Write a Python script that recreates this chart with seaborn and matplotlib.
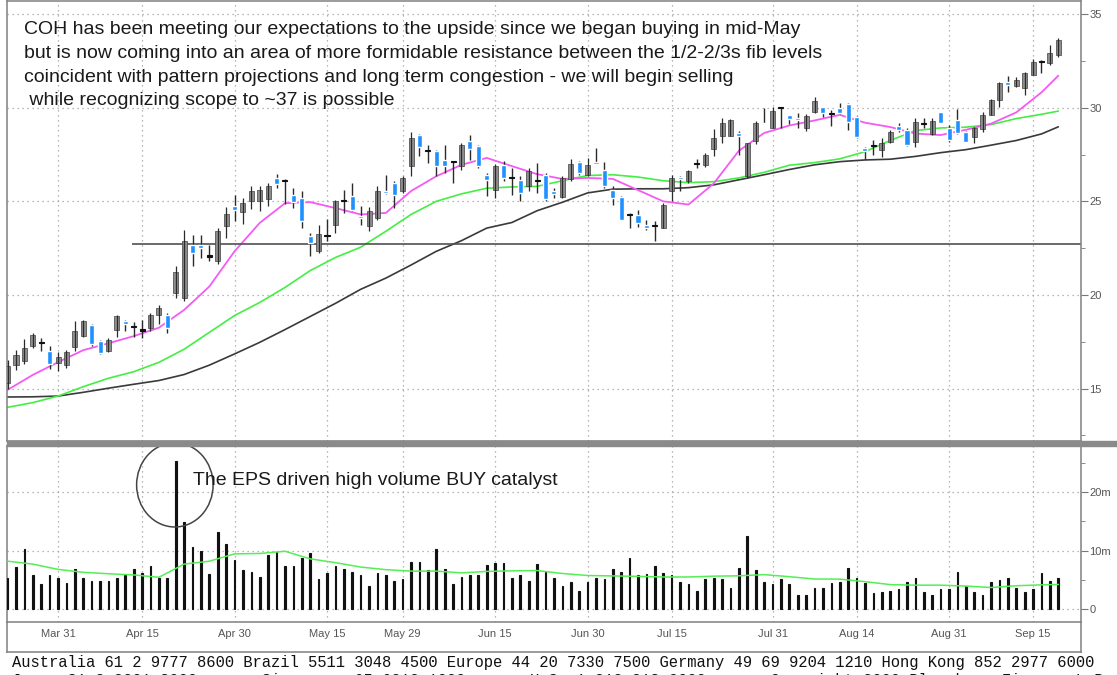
import numpy as np
import pandas as pd
import matplotlib
matplotlib.use("Agg")
import matplotlib.pyplot as plt
from matplotlib.patches import Ellipse, Rectangle
import seaborn as sns


# Trading sessions shown (2009, US market holidays skipped)

holidays = ["2009-04-10", "2009-05-25", "2009-07-03", "2009-09-07"]
dates = pd.bdate_range("2009-03-23", "2009-09-18", freq="C", holidays=holidays)

# Daily OHLC

opens = [
    15.3, 16.27, 16.45, 17.25, 17.42, 17.03, 16.36, 16.27, 17.2, 17.8,
    18.4, 17.55, 17.0, 18.14, 18.62, 18.3, 18.1, 18.23, 18.94, 18.94,
    20.1, 19.85, 22.68, 22.68, 22.1, 21.8, 23.7, 24.75, 24.45, 25.0,
    25.0, 25.1, 26.26, 26.1, 25.36, 25.2, 23.13, 22.33, 23.13, 23.75,
    25.0, 25.27, 24.2, 23.66, 24.1, 25.53, 25.98, 25.53, 26.87, 28.53,
    27.67, 27.71, 27.23, 27.14, 26.87, 28.24, 27.94, 26.43, 25.62, 26.96,
    26.25, 26.16, 25.8, 26.1, 26.43, 25.54, 25.22, 26.17, 27.11, 26.43,
    27.1, 26.67, 25.63, 25.22, 24.3, 24.26, 23.76, 23.75, 23.55, 25.54,
    26.3, 26.08, 27.05, 26.93, 27.77, 28.48, 28.48, 28.66, 26.35, 28.22,
    29.2, 28.93, 30.0, 29.6, 29.43, 28.93, 29.75, 30.05, 29.64, 30.0,
    30.18, 29.52, 27.86, 27.95, 27.74, 28.18, 29.04, 28.8, 28.18, 29.13,
    28.57, 29.75, 28.93, 29.34, 28.72, 28.45, 28.89, 29.61, 30.41, 31.35,
    31.18, 31.03, 31.75, 32.46, 32.37, 32.82,
]
highs = [
    16.55, 17.07, 17.64, 17.96, 17.69, 17.25, 16.98, 17.07, 18.62, 18.67,
    18.44, 17.6, 17.7, 18.94, 18.67, 18.55, 18.67, 19.06, 19.44, 19.03,
    21.52, 23.45, 23.22, 23.22, 22.68, 23.57, 24.7, 25.36, 25.18, 25.82,
    25.82, 26.0, 26.45, 26.2, 25.71, 25.53, 23.31, 23.72, 24.07, 25.09,
    25.62, 25.98, 24.73, 24.68, 25.8, 26.43, 26.07, 26.34, 28.71, 28.57,
    28.03, 27.76, 28.03, 27.14, 28.12, 28.53, 28.03, 26.52, 27.0, 27.14,
    26.78, 26.34, 26.78, 27.05, 26.52, 25.72, 26.35, 27.24, 27.18, 27.33,
    27.83, 27.11, 25.81, 25.28, 24.38, 24.56, 24.03, 23.97, 24.92, 26.43,
    26.35, 26.7, 27.24, 27.59, 28.84, 29.47, 29.38, 28.75, 28.13, 29.29,
    30.0, 30.04, 30.05, 29.6, 29.73, 29.64, 30.59, 30.05, 29.88, 30.23,
    30.27, 29.55, 27.91, 28.27, 28.36, 28.8, 29.16, 28.9, 29.43, 29.43,
    29.43, 29.79, 29.07, 29.93, 28.75, 28.98, 29.79, 30.46, 31.35, 31.71,
    31.66, 31.93, 32.6, 32.55, 33.35, 33.74,
]
lows = [
    15.0, 16.0, 16.32, 17.16, 17.01, 16.05, 15.94, 16.09, 17.01, 17.78,
    17.3, 16.84, 16.98, 17.78, 18.05, 17.78, 17.69, 18.05, 18.44, 17.96,
    19.83, 19.7, 21.52, 22.0, 21.8, 21.66, 23.04, 23.93, 23.79, 24.6,
    24.5, 24.75, 25.7, 24.85, 24.64, 23.6, 22.06, 22.24, 22.86, 23.31,
    24.38, 24.47, 23.75, 23.43, 24.02, 25.4, 24.64, 25.45, 26.34, 27.41,
    27.05, 26.34, 26.52, 25.98, 26.69, 27.23, 26.78, 25.27, 25.18, 26.07,
    25.36, 25.04, 25.53, 25.45, 25.0, 25.19, 25.19, 26.08, 26.43, 26.35,
    27.0, 25.69, 24.83, 24.03, 23.58, 23.62, 23.49, 22.87, 23.55, 25.0,
    25.54, 25.99, 26.79, 26.83, 27.42, 28.13, 28.48, 27.5, 26.26, 28.04,
    29.11, 28.93, 28.93, 29.11, 28.93, 28.75, 29.7, 29.52, 29.04, 29.64,
    28.8, 28.36, 27.24, 27.47, 27.38, 28.09, 28.72, 27.97, 27.91, 28.93,
    28.54, 29.16, 28.18, 28.57, 28.15, 28.09, 28.72, 29.61, 30.05, 30.86,
    31.12, 30.68, 31.75, 31.84, 32.28, 32.73,
]
closes = [
    16.2, 16.8, 17.15, 17.87, 17.45, 16.32, 16.71, 16.94, 18.05, 18.6,
    17.37, 16.9, 17.6, 18.85, 18.44, 18.35, 18.14, 18.94, 19.3, 18.23,
    21.2, 22.9, 22.24, 22.5, 22.05, 23.4, 24.3, 24.55, 24.9, 25.55,
    25.6, 25.8, 25.94, 26.12, 24.96, 23.93, 22.77, 23.25, 23.15, 25.04,
    25.02, 24.55, 24.1, 24.47, 25.53, 25.45, 25.36, 26.25, 28.39, 27.89,
    27.69, 26.87, 26.87, 27.08, 28.03, 27.82, 26.87, 26.16, 26.87, 26.25,
    26.27, 25.45, 26.6, 26.15, 25.1, 25.37, 26.26, 26.97, 26.52, 26.93,
    27.0, 25.81, 25.19, 24.03, 24.25, 23.85, 23.55, 23.7, 24.83, 26.26,
    26.2, 26.61, 27.0, 27.5, 28.4, 29.2, 29.32, 28.48, 28.13, 29.2,
    29.11, 29.82, 30.02, 29.38, 29.32, 29.55, 30.36, 29.7, 29.66, 29.7,
    29.25, 28.45, 27.68, 27.98, 28.09, 28.72, 28.8, 28.0, 29.25, 29.17,
    29.29, 29.21, 28.27, 28.63, 28.18, 28.93, 29.61, 30.41, 31.3, 31.21,
    31.48, 31.84, 32.46, 32.48, 32.9, 33.62,
]

# Daily volume, millions of shares

volume_m = [
    5.36, 7.24, 10.26, 5.81, 4.22, 5.81, 5.24, 4.39, 6.84, 5.24,
    4.79, 4.84, 4.79, 5.41, 5.81, 6.84, 6.10, 7.35, 5.41, 5.41,
    25.36, 14.93, 10.66, 9.91, 5.93, 13.11, 11.17, 8.32, 6.61, 6.27,
    5.53, 9.23, 9.80, 7.35, 7.35, 8.77, 9.63, 5.07, 6.10, 7.35,
    6.84, 6.27, 5.81, 3.99, 6.10, 5.81, 4.79, 5.07, 7.98, 7.98,
    6.67, 10.26, 6.78, 4.22, 5.47, 5.81, 5.81, 7.52, 7.81, 7.81,
    5.36, 5.81, 4.84, 7.69, 6.38, 5.36, 3.99, 4.56, 3.13, 4.56,
    5.24, 5.07, 6.84, 6.27, 8.66, 5.81, 5.93, 7.35, 6.10, 5.81,
    4.56, 4.22, 3.13, 5.07, 5.36, 5.07, 3.53, 6.95, 12.54, 6.67,
    4.67, 4.22, 5.07, 4.22, 2.39, 2.39, 3.65, 3.53, 4.39, 4.56,
    6.95, 5.24, 4.39, 2.68, 2.85, 3.13, 3.36, 4.56, 5.24, 2.85,
    2.39, 3.36, 3.36, 6.38, 3.99, 2.85, 2.39, 4.56, 4.96, 5.36,
    3.53, 2.96, 3.36, 6.10, 4.79, 5.24,
]

# Moving averages read every 3rd session (and the last one)

ma_pink = [
    14.93, 15.73, 16.41, 17.05, 17.42, 17.8, 18.25, 19.2, 20.45, 22.33,
    23.85, 24.9, 24.96, 24.64, 24.3, 24.38, 25.55, 26.34, 26.95, 27.32,
    26.88, 26.45, 26.2, 26.25, 26.2, 25.6, 25.0, 24.83, 25.95, 27.7,
    28.65, 29.05, 29.32, 29.62, 29.2, 28.97, 28.62, 28.54, 28.82, 29.15,
    29.75, 30.82, 31.71,
]
ma_green = [
    14.0, 14.25, 14.6, 15.1, 15.55, 15.9, 16.4, 17.1, 18.0, 18.9,
    19.6, 20.4, 21.3, 22.0, 22.55, 23.4, 24.3, 25.0, 25.4, 25.7,
    25.77, 25.8, 26.1, 26.38, 26.42, 26.3, 26.1, 26.0, 26.05, 26.25,
    26.55, 26.93, 27.07, 27.27, 27.65, 28.25, 28.78, 28.92, 28.96, 29.1,
    29.42, 29.65, 29.82,
]
ma_black = [
    14.55, 14.56, 14.6, 14.8, 15.02, 15.23, 15.43, 15.75, 16.25, 16.85,
    17.47, 18.15, 18.85, 19.55, 20.3, 20.9, 21.6, 22.33, 22.9, 23.57,
    23.87, 24.5, 24.95, 25.45, 25.65, 25.67, 25.67, 25.73, 25.88, 26.15,
    26.42, 26.7, 26.95, 27.12, 27.21, 27.25, 27.4, 27.6, 27.76, 28.0,
    28.25, 28.6, 28.98,
]
vol_ma = [
    8.2, 7.7, 6.8, 6.3, 6.05, 5.85, 5.45, 7.7, 8.2, 9.45,
    9.52, 9.9, 8.6, 7.95, 7.2, 6.75, 6.5, 6.5, 6.2, 6.45,
    6.55, 6.6, 6.1, 5.75, 5.68, 5.6, 5.5, 5.5, 5.64, 5.7,
    5.9, 5.55, 5.15, 5.13, 4.7, 4.2, 4.1, 4.1, 3.95, 3.7,
    4.0, 4.15, 4.22,
]

tick_labels = ["Mar 31", "Apr 15", "Apr 30", "May 15", "May 29", "Jun 15",
               "Jun 30", "Jul 15", "Jul 31", "Aug 14", "Aug 31", "Sep 15"]

support_level = 22.7
support_start = "Apr 14"

note = [
    "COH has been meeting our expectations to the upside since we began buying in mid-May",
    "but is now coming into an area of more formidable resistance between the 1/2-2/3s fib levels",
    "coincident with pattern projections and long term congestion - we will begin selling",
    " while recognizing scope to ~37 is possible",
]
vol_note = "The EPS driven high volume BUY catalyst"
footer = [
    "Australia 61 2 9777 8600 Brazil 5511 3048 4500 Europe 44 20 7330 7500 "
    "Germany 49 69 9204 1210 Hong Kong 852 2977 6000",
    "Japan 81 3 3201 8900       Singapore 65 6212 1000       U.S. 1 212 318 2000"
    "       Copyright 2009 Bloomberg Finance L.P.",
]


# Style

sns.set_style("white")
plt.rcParams["font.family"] = ["Liberation Sans", "DejaVu Sans"]

W, H = 1117, 675
fig = plt.figure(figsize=(W / 100, H / 100), dpi=100)


def box(left, top, right, bottom):
    return [left / W, 1 - bottom / H, (right - left) / W, (bottom - top) / H]


ax_d = fig.add_axes(box(7, 622, 1081, 652))
ax_p = fig.add_axes(box(7, 1, 1081, 441))
ax_v = fig.add_axes(box(7, 446, 1081, 622))

x = np.arange(len(dates))
ma_idx = np.r_[np.arange(0, len(dates) - 2, 3), len(dates) - 1]
labels_all = list(dates.strftime("%b %d"))
major = np.array([labels_all.index(t) for t in tick_labels])
minor = np.r_[(major[:-1] + major[1:]) / 2, major[-1] + 5.5]
xlim = (-0.07, 127.7)

grid_kw = dict(color="#a0a0a0", linestyle=(0, (1, 3)), linewidth=0.9)
spine_col = "#808080"

for ax in (ax_d, ax_p, ax_v):
    for s in ax.spines.values():
        s.set_color(spine_col)
        s.set_linewidth(1.1)

ax_d.patch.set_visible(False)
ax_d.set_xticks([])
ax_d.set_yticks([])
ax_d.spines["top"].set_visible(False)

# Price panel

o, h, l, c = map(np.array, (opens, highs, lows, closes))
doji = np.abs(c - o) < 0.08
up = (c >= o) & ~doji
down = (c < o) & ~doji
body_lo = np.minimum(o, c)
body_h = np.maximum(np.abs(c - o), 0.06)

sns.lineplot(x=x[ma_idx], y=ma_black, ax=ax_p, color="#3a3a3a", linewidth=1.2, zorder=2)
sns.lineplot(x=x[ma_idx], y=ma_green, ax=ax_p, color="#44ee44", linewidth=1.2, zorder=2)
sns.lineplot(x=x[ma_idx], y=ma_pink, ax=ax_p, color="#f55af5", linewidth=1.3, zorder=2)

ax_p.hlines(support_level, labels_all.index(support_start) - 0.2, xlim[1],
            color="#505050", linewidth=1.2, zorder=2)

ax_p.vlines(x[~up], l[~up], h[~up], color="#2a2a2a", linewidth=1.0, zorder=3)
ax_p.bar(x[down], body_h[down], bottom=body_lo[down], width=0.6,
         color="#1e90ff", zorder=4)
ax_p.bar(x[doji], body_h[doji], bottom=body_lo[doji], width=0.6,
         color="#111111", edgecolor="#111111", linewidth=0.8, zorder=4)
ax_p.bar(x[up], body_h[up], bottom=body_lo[up], width=0.6,
         color="#8e8e8e", edgecolor="#404040", linewidth=0.5, zorder=4)
ax_p.vlines(x[up], l[up], h[up], color="#2a2a2a", linewidth=0.9, zorder=5)

ax_p.set_xlim(*xlim)
ax_p.set_ylim(12.2, 35.7)
ax_p.set_xticks(major)
ax_p.set_yticks([15, 20, 25, 30, 35])
ax_p.set_yticks([12.5, 17.5, 22.5, 27.5, 32.5], minor=True)
ax_p.grid(True, which="major", **grid_kw)
ax_p.tick_params(axis="x", length=0, labelbottom=False)
ax_p.yaxis.tick_right()
ax_p.tick_params(axis="y", which="major", length=5, color="#777777",
                 labelsize=8, labelcolor="#555555", pad=1)
ax_p.tick_params(axis="y", which="minor", length=3, color="#777777")
ax_p.set_xlabel("")
ax_p.set_ylabel("")

ax_p.text(0.0158, 0.955, "\n".join(note), transform=ax_p.transAxes,
          ha="left", va="top", fontsize=14, color="#1a1a1a", linespacing=1.53)

# Volume panel

ax_v.bar(x, volume_m, width=0.2, color="#111111", edgecolor="#111111",
         linewidth=0.8, zorder=3)
sns.lineplot(x=x[ma_idx], y=vol_ma, ax=ax_v, color="#55ee55", linewidth=1.1, zorder=4)

ax_v.add_patch(Ellipse((19.9, 21.25), 9.1, 14.4, fill=False,
                       edgecolor="#444444", linewidth=1.1, zorder=5))
ax_v.text(22.06, 22.0, vol_note, ha="left", va="center", fontsize=14,
          color="#1a1a1a", zorder=6)

ax_v.set_xlim(*xlim)
ax_v.set_ylim(-2.2, 27.9)
ax_v.set_yticks([0, 10, 20])
ax_v.set_yticklabels(["0", "10m", "20m"])
ax_v.set_yticks([5, 15, 25], minor=True)
ax_v.set_xticks(major)
ax_v.set_xticklabels(tick_labels)
ax_v.set_xticks(minor, minor=True)
ax_v.grid(True, which="major", **grid_kw)
ax_v.yaxis.tick_right()
ax_v.tick_params(axis="y", which="major", length=5, color="#777777",
                 labelsize=8, labelcolor="#555555", pad=1)
ax_v.tick_params(axis="y", which="minor", length=3, color="#777777")
ax_v.tick_params(axis="x", which="major", length=3, color="#777777",
                 labelsize=8, labelcolor="#555555", pad=2)
ax_v.tick_params(axis="x", which="minor", length=4, color="#777777")
ax_v.set_xlabel("")
ax_v.set_ylabel("")

# Panel separator and footer

fig.add_artist(Rectangle((7 / W, 1 - 446 / H), (W - 7) / W, 5 / H,
                         transform=fig.transFigure, color="#8a8a8a", zorder=10))

fig.text(12 / W, 1 - 663 / H, footer[0], family="Liberation Mono",
         fontsize=11.2, va="center", ha="left", color="#111111")
fig.text(12 / W, 1 - 681 / H, footer[1], family="Liberation Mono",
         fontsize=11.2, va="center", ha="left", color="#111111")

fig.savefig("out.png", dpi=100)
